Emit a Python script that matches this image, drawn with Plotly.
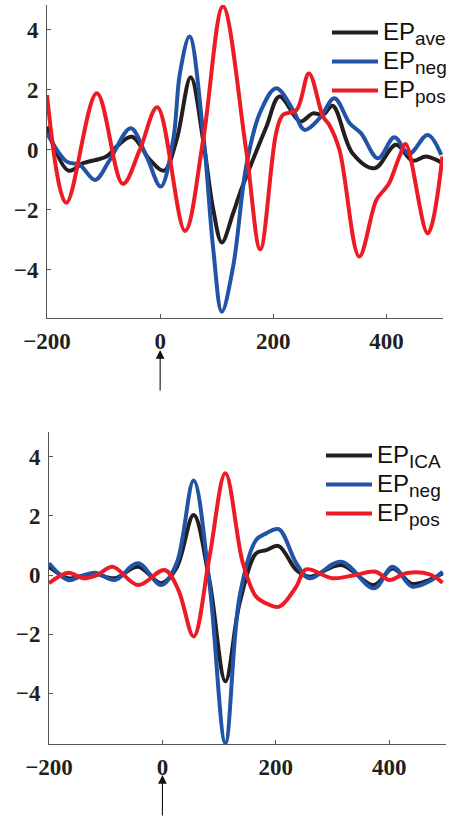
import plotly.graph_objects as go

# ---------- data (top panel) ----------
t_ave = [-200, -162, -136, -95, -77, -50, -18, 7, 29, 54, 76, 94, 109, 129, 141, 164, 188, 211, 248, 270, 288, 305, 340, 379, 417, 446, 470, 497]
v_ave = [0.78, -0.69, -0.44, -0.22, 0.11, 0.44, -0.33, -0.69, 0.33, 2.42, 0.33, -2.0, -3.08, -2.11, -1.44, -0.33, 0.78, 1.78, 0.95, 1.22, 1.17, 1.47, -0.11, -0.61, 0.17, -0.36, -0.22, -0.42]

t_neg = [-200, -165, -142, -115, -89, -52, -24, 1, 23, 35, 52, 76, 94, 109, 129, 152, 176, 205, 235, 255, 282, 308, 335, 355, 385, 414, 440, 473, 497]
v_neg = [0.56, -0.39, -0.5, -1.0, -0.33, 0.72, -0.22, -1.22, 0.33, 2.56, 3.78, 0.56, -3.33, -5.39, -3.89, -0.56, 1.22, 2.06, 1.33, 0.67, 1.06, 1.72, 0.89, 0.56, -0.28, 0.42, -0.13, 0.5, -0.17]

t_pos = [-200, -166, -112, -66, -36, -5, 44, 76, 111, 152, 177, 205, 217, 241, 263, 288, 299, 317, 352, 382, 396, 405, 423, 434, 473, 499]
v_pos = [1.83, -1.76, 1.89, -1.13, 0.0, 1.42, -2.7, 0.33, 4.78, 0.0, -3.31, 0.56, 1.17, 1.33, 2.55, 1.11, 0.83, 0.0, -3.55, -1.67, -1.33, -1.1, -0.22, 0.2, -2.78, -0.22]

# ---------- data (bottom panel) ----------
b_t = [-200, -166, -146, -119, -84, -43, -2, 25, 55, 83, 111, 136, 165, 183, 205, 236, 259, 315, 373, 406, 440, 470, 494]
b_v_ica = [0.28, -0.11, -0.05, 0.03, -0.11, 0.28, -0.28, 0.25, 2.03, -0.2, -3.6, -0.96, 0.73, 0.84, 0.98, 0.17, -0.06, 0.34, -0.34, 0.22, -0.3, -0.17, 0.06]
b_v_neg = [0.4, -0.17, -0.06, 0.08, -0.17, 0.4, -0.34, 0.4, 3.2, -0.3, -5.69, -0.73, 1.18, 1.41, 1.55, 0.4, -0.11, 0.45, -0.45, 0.28, -0.39, -0.22, 0.11]

b_t_pos = [-200, -166, -140, -115, -88, -43, 4, 28, 55, 83, 111, 142, 165, 183, 206, 236, 253, 300, 340, 376, 400, 430, 470, 494]
b_v_pos = [-0.28, 0.08, -0.11, 0.0, 0.28, -0.34, 0.17, -0.5, -2.08, 0.62, 3.44, 0.39, -0.73, -0.96, -1.07, -0.39, 0.19, -0.11, 0.0, 0.11, -0.17, 0.06, 0.03, -0.26]

x_ticks = [-200, 0, 200, 400]
y_ticks = [-4, -2, 0, 2, 4]

BLACK = "#231f20"
BLUE = "#2154a6"
RED = "#ed1c24"
W, H = 456, 819

fig = go.Figure()

def label(sub):
    return ('<span style="font-size:24px">EP</span>'
            '<sub><span style="font-size:19px">' + sub + '</span></sub>')

def add(x, y, sub, color, xa, ya, leg):
    fig.add_trace(go.Scatter(x=x, y=y, name=label(sub), mode="lines",
                             line=dict(color=color, width=4, shape="spline", smoothing=1.0),
                             xaxis=xa, yaxis=ya, legend=leg))

add(t_ave, v_ave, "ave", BLACK, "x", "y", "legend")
add(t_neg, v_neg, "neg", BLUE, "x", "y", "legend")
add(t_pos, v_pos, "pos", RED, "x", "y", "legend")
add(b_t, b_v_ica, "ICA", BLACK, "x2", "y2", "legend2")
add(b_t, b_v_neg, "neg", BLUE, "x2", "y2", "legend2")
add(b_t_pos, b_v_pos, "pos", RED, "x2", "y2", "legend2")

tickfont = dict(family="Liberation Serif", size=23, color="#231f20", weight="bold")
axis_common = dict(showgrid=False, zeroline=False, showline=True, linecolor="#555555",
                   linewidth=1, ticks="inside", ticklen=4, tickcolor="#555555",
                   tickfont=tickfont, automargin=False)

legfont = dict(family="Liberation Sans", size=20, color="#111111")

fig.update_layout(
    width=W, height=H,
    margin=dict(l=0, r=0, t=0, b=0),
    paper_bgcolor="white", plot_bgcolor="white",
    xaxis=dict(domain=[47/W, 443/W], range=[-200, 500], tickvals=x_ticks,
               anchor="y", ticklabelstandoff=2, **axis_common),
    yaxis=dict(domain=[1-318/H, 1-5/H], range=[-5.6, 4.83], tickvals=y_ticks,
               anchor="x", ticklabelstandoff=3, **axis_common),
    xaxis2=dict(domain=[49/W, 446/W], range=[-200, 500], tickvals=x_ticks,
                anchor="y2", ticklabelstandoff=2, **axis_common),
    yaxis2=dict(domain=[1-744/H, 1-432/H], range=[-5.72, 4.84], tickvals=y_ticks,
                anchor="x2", ticklabelstandoff=3, **axis_common),
    legend=dict(x=327/W, y=1-13/H, xanchor="left", yanchor="top",
                bgcolor="rgba(0,0,0,0)", itemwidth=46, tracegroupgap=0,
                font=legfont),
    legend2=dict(x=321/W, y=1-436/H, xanchor="left", yanchor="top",
                 bgcolor="rgba(0,0,0,0)", itemwidth=46, tracegroupgap=0,
                 font=legfont),
    showlegend=True,
)

# stimulus-onset arrows below the x axes
for xref, tip_px in (("x", 350), ("x2", 775)):
    fig.add_annotation(x=0, y=1-tip_px/H, xref=xref, yref="paper", text="",
                       showarrow=True, ax=0, ay=42, axref="pixel", ayref="pixel",
                       arrowhead=2, arrowsize=1.6, arrowwidth=1.1, arrowcolor="#111111")

fig.write_html("out.html")
